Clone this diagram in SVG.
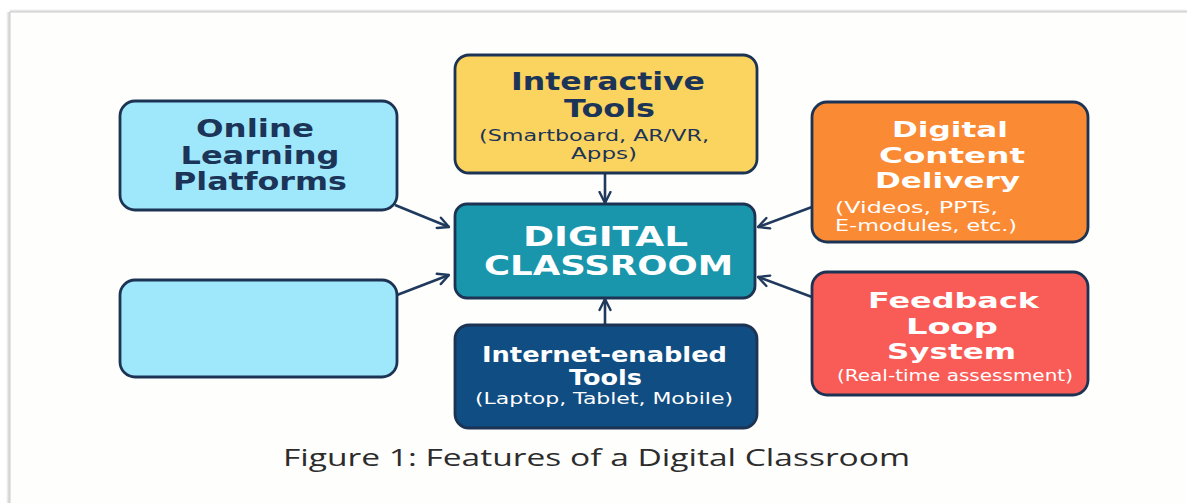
<svg xmlns="http://www.w3.org/2000/svg" width="1187" height="503" viewBox="0 0 1187 503">
  <style>
    .box { stroke: #1d3354; stroke-width: 2.8; }
    .ttl { font-family: "DejaVu Sans", "Liberation Sans", sans-serif; font-weight: bold; font-size: 24px; text-anchor: middle; }
    .tight { font-size: 22px; }
    .sub { font-family: "DejaVu Sans", "Liberation Sans", sans-serif; font-size: 16px; text-anchor: middle; }
    .dark { fill: #1b3457; }
    .light { fill: #ffffff; }
    .conn { stroke: #1f3a5c; stroke-width: 2.6; fill: none; marker-end: url(#arrow); }
    .cap { font-family: "Open Sans", "Liberation Sans", sans-serif; font-size: 24px; fill: #2c2c2c; text-anchor: middle; }
  </style>
  <defs>
    <marker id="arrow" viewBox="0 0 14 14" refX="12.5" refY="7" markerWidth="14" markerHeight="14" markerUnits="userSpaceOnUse" orient="auto">
      <path d="M1.5,1.5 L12.5,7 L1.5,12.5" fill="none" stroke="#1f3a5c" stroke-width="2.4" stroke-linecap="round" stroke-linejoin="round"/>
    </marker>
    <linearGradient id="shadeL" x1="0" y1="0" x2="1" y2="0">
      <stop offset="0" stop-color="#ffffff"/>
      <stop offset="1" stop-color="#c8c8c8"/>
    </linearGradient>
    <linearGradient id="shadeT" x1="0" y1="0" x2="0" y2="1">
      <stop offset="0" stop-color="#ffffff"/>
      <stop offset="1" stop-color="#d0d0d0"/>
    </linearGradient>
  </defs>

  <!-- page background and framed sheet -->
  <rect x="0" y="0" width="1187" height="503" fill="#ffffff"/>
  <rect x="6" y="12" width="4" height="491" fill="url(#shadeL)"/>
  <rect x="10" y="9" width="1177" height="3" fill="url(#shadeT)"/>
  <rect x="10" y="12" width="1180" height="495" fill="#fefefc" stroke="#d4d4d4" stroke-width="1.2"/>

  <!-- connectors -->
  <g id="connectors">
    <line class="conn" x1="605" y1="174" x2="605" y2="203"/>
    <line class="conn" x1="605" y1="325" x2="605" y2="299"/>
    <line class="conn" x1="395" y1="205" x2="449" y2="227"/>
    <line class="conn" x1="397" y1="295" x2="449" y2="275"/>
    <line class="conn" x1="812" y1="207" x2="758" y2="227"/>
    <line class="conn" x1="812" y1="297" x2="758" y2="277"/>
  </g>

  <g id="online-learning">
    <rect class="box" x="120" y="101" width="277" height="109" rx="15" fill="#9fe8fc"/>
    <text class="ttl dark" x="255" y="137" textLength="118" lengthAdjust="spacingAndGlyphs">Online</text>
    <text class="ttl dark" x="260" y="164" textLength="159" lengthAdjust="spacingAndGlyphs">Learning</text>
    <text class="ttl dark" x="260" y="190" textLength="174" lengthAdjust="spacingAndGlyphs">Platforms</text>
  </g>

  <g id="blank-box">
    <rect class="box" x="120" y="280" width="277" height="97" rx="15" fill="#9fe8fc"/>
  </g>

  <g id="interactive-tools">
    <rect class="box" x="455" y="55" width="302" height="118" rx="14" fill="#fbd35f"/>
    <text class="ttl dark" x="608" y="90" textLength="194" lengthAdjust="spacingAndGlyphs">Interactive</text>
    <text class="ttl dark" x="609.5" y="117" textLength="91" lengthAdjust="spacingAndGlyphs">Tools</text>
    <text class="sub dark" x="594" y="141" textLength="230" lengthAdjust="spacingAndGlyphs">(Smartboard, AR/VR,</text>
    <text class="sub dark" x="604" y="159" textLength="66" lengthAdjust="spacingAndGlyphs">Apps)</text>
  </g>

  <g id="digital-classroom">
    <rect class="box" x="455" y="204" width="300" height="94" rx="12" fill="#1a96ac"/>
    <text class="ttl light" style="font-size:26px" x="605.5" y="246" textLength="165" lengthAdjust="spacingAndGlyphs">DIGITAL</text>
    <text class="ttl light" style="font-size:26px" x="608.5" y="275" textLength="249" lengthAdjust="spacingAndGlyphs">CLASSROOM</text>
  </g>

  <g id="content-delivery">
    <rect class="box" x="812" y="102" width="276" height="140" rx="15" fill="#fb8a35"/>
    <text class="ttl tight light" x="950" y="137" textLength="116" lengthAdjust="spacingAndGlyphs">Digital</text>
    <text class="ttl tight light" x="952" y="163" textLength="146" lengthAdjust="spacingAndGlyphs">Content</text>
    <text class="ttl tight light" x="947.5" y="188" textLength="145" lengthAdjust="spacingAndGlyphs">Delivery</text>
    <text class="sub light" style="text-anchor:start" x="835" y="213" textLength="163" lengthAdjust="spacingAndGlyphs">(Videos, PPTs,</text>
    <text class="sub light" style="text-anchor:start" x="835" y="231" textLength="182" lengthAdjust="spacingAndGlyphs">E-modules, etc.)</text>
  </g>

  <g id="feedback-loop">
    <rect class="box" x="812" y="272" width="276" height="123" rx="15" fill="#f95c57"/>
    <text class="ttl tight light" x="953.5" y="308" textLength="171" lengthAdjust="spacingAndGlyphs">Feedback</text>
    <text class="ttl tight light" x="952" y="334" textLength="92" lengthAdjust="spacingAndGlyphs">Loop</text>
    <text class="ttl tight light" x="951.5" y="359" textLength="129" lengthAdjust="spacingAndGlyphs">System</text>
    <text class="sub light" x="955" y="381" textLength="236" lengthAdjust="spacingAndGlyphs">(Real-time assessment)</text>
  </g>

  <g id="internet-tools">
    <rect class="box" x="455" y="325" width="302" height="103" rx="14" fill="#0f4d82"/>
    <text class="ttl light" style="font-size:21px" x="604.5" y="362" textLength="245" lengthAdjust="spacingAndGlyphs">Internet-enabled</text>
    <text class="ttl light" style="font-size:21px" x="605.5" y="385" textLength="73" lengthAdjust="spacingAndGlyphs">Tools</text>
    <text class="sub light" x="604" y="404" textLength="258" lengthAdjust="spacingAndGlyphs">(Laptop, Tablet, Mobile)</text>
  </g>

  <g id="caption">
    <text class="cap" x="596.5" y="466" textLength="627" lengthAdjust="spacingAndGlyphs">Figure 1: Features of a Digital Classroom</text>
  </g>
</svg>
